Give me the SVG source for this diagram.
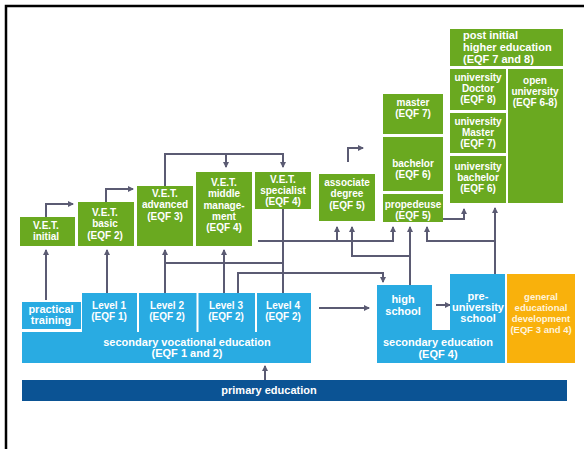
<svg xmlns="http://www.w3.org/2000/svg" width="584" height="449" viewBox="0 0 584 449">
<style>
.g{fill:#6aa920}
.b{fill:#29abe2}
.o{fill:#f9b10c}
.d{fill:#0b5394}
text{font-family:"Liberation Sans",Arial,sans-serif;font-weight:bold;fill:#ffffff;text-anchor:middle;font-size:10px}
.l{font-size:11px}
.s{font-size:9.5px;fill:#fff4dc}
.c{fill:none;stroke:#5b5b73;stroke-width:2}
</style>
<defs>
<marker id="ah" viewBox="0 0 6 6" refX="5" refY="3" markerWidth="6" markerHeight="6" markerUnits="userSpaceOnUse" orient="auto">
<path d="M0,0 L6,3 L0,6 z" fill="#5b5b73"/>
</marker>
</defs>
<rect width="584" height="449" fill="#ffffff"/>
<path d="M6,449 V6 H584" fill="none" stroke="#000000" stroke-width="2.5"/>

<g id="connectors">
<path class="c" d="M46,300 V250" marker-end="url(#ah)"/>
<path class="c" d="M107,293 V250" marker-end="url(#ah)"/>
<path class="c" d="M165,293 V250" marker-end="url(#ah)"/>
<path class="c" d="M224,293 V250" marker-end="url(#ah)"/>
<path class="c" d="M165,263 H283"/>
<path class="c" d="M283,293 V209"/>
<path class="c" d="M238,293 V273 H383 V282" marker-end="url(#ah)"/>
<path class="c" d="M258,241 H393 V227" marker-end="url(#ah)"/>
<path class="c" d="M337,241 V227" marker-end="url(#ah)"/>
<path class="c" d="M410,285 V227" marker-end="url(#ah)"/>
<path class="c" d="M410,256 H352 V227" marker-end="url(#ah)"/>
<path class="c" d="M495,274 V208" marker-end="url(#ah)"/>
<path class="c" d="M495,241 H427 V227" marker-end="url(#ah)"/>
<path class="c" d="M443,219 H464 V209" marker-end="url(#ah)"/>
<path class="c" d="M46,217 V204 H73" marker-end="url(#ah)"/>
<path class="c" d="M106,202 V189 H133" marker-end="url(#ah)"/>
<path class="c" d="M165,186 V154 H283 V167" marker-end="url(#ah)"/>
<path class="c" d="M226,154 V167" marker-end="url(#ah)"/>
<path class="c" d="M348,162 V148 H363" marker-end="url(#ah)"/>
<path class="c" d="M319,308 H369" marker-end="url(#ah)"/>
<path class="c" d="M436,305 H450" marker-end="url(#ah)"/>
<path class="c" d="M265,380 V366" marker-end="url(#ah)"/>
</g>

<g id="vet-initial"><rect class="g" x="20" y="217" width="55" height="29"/>
<text x="46" y="229">V.E.T.</text><text x="46" y="240">initial</text></g>
<g id="vet-basic"><rect class="g" x="78" y="202" width="56" height="44"/>
<text x="105" y="216">V.E.T.</text><text x="105" y="227">basic</text><text x="105" y="239">(EQF 2)</text></g>
<g id="vet-advanced"><rect class="g" x="137" y="186" width="56" height="60"/>
<text x="165" y="197">V.E.T.</text><text x="165" y="208">advanced</text><text x="165" y="220">(EQF 3)</text></g>
<g id="vet-middle"><rect class="g" x="196" y="172" width="56" height="74"/>
<text x="224" y="186">V.E.T.</text><text x="224" y="197">middle</text><text x="224" y="209">manage-</text><text x="224" y="220">ment</text><text x="224" y="231">(EQF 4)</text></g>
<g id="vet-specialist"><rect class="g" x="255" y="172" width="56" height="37"/>
<text x="283" y="183">V.E.T.</text><text x="283" y="194">specialist</text><text x="283" y="205">(EQF 4)</text></g>
<g id="associate"><rect class="g" x="319" y="174" width="56" height="47"/>
<text x="347" y="186">associate</text><text x="347" y="197">degree</text><text x="347" y="209">(EQF 5)</text></g>
<g id="master"><rect class="g" x="383" y="94" width="60" height="40"/>
<text x="413" y="106">master</text><text x="413" y="117">(EQF 7)</text></g>
<g id="bachelor"><rect class="g" x="383" y="137" width="60" height="54"/>
<text x="413" y="167">bachelor</text><text x="413" y="178">(EQF 6)</text></g>
<g id="propedeuse"><rect class="g" x="383" y="194" width="60" height="28"/>
<text x="413" y="208">propedeuse</text><text x="413" y="219">(EQF 5)</text></g>
<g id="post-initial"><rect class="g" x="450" y="29" width="113" height="37"/>
<text class="l" x="463" y="39" style="text-anchor:start">post initial</text><text class="l" x="463" y="51" style="text-anchor:start">higher education</text><text class="l" x="463" y="63" style="text-anchor:start">(EQF 7 and 8)</text></g>
<g id="uni-doctor"><rect class="g" x="450" y="69" width="56" height="41"/>
<text x="478" y="81">university</text><text x="478" y="92">Doctor</text><text x="478" y="103">(EQF 8)</text></g>
<g id="uni-master"><rect class="g" x="450" y="113" width="56" height="40"/>
<text x="478" y="125">university</text><text x="478" y="136">Master</text><text x="478" y="147">(EQF 7)</text></g>
<g id="uni-bachelor"><rect class="g" x="450" y="156" width="56" height="47"/>
<text x="478" y="170">university</text><text x="478" y="181">bachelor</text><text x="478" y="192">(EQF 6)</text></g>
<g id="open-university"><rect class="g" x="508" y="69" width="55" height="134"/>
<text x="535" y="84">open</text><text x="535" y="95">university</text><text x="535" y="106">(EQF 6-8)</text></g>

<g id="practical-training"><rect class="b" x="22" y="302" width="59" height="27"/>
<text class="l" x="51" y="313">practical</text><text class="l" x="51" y="324">training</text></g>
<g id="secondary-vocational"><rect class="b" x="22" y="332" width="289" height="31"/>
<rect class="b" x="82" y="293" width="229" height="40"/>
<path d="M138,293 V332 M197.5,293 V332 M256,293 V332" stroke="#ffffff" stroke-width="2"/>
<text class="l" x="187" y="346">secondary vocational education</text><text class="l" x="187" y="357">(EQF 1 and 2)</text></g>
<g id="level1"><text x="109" y="309">Level 1</text><text x="109" y="320">(EQF 1)</text></g>
<g id="level2"><text x="167" y="309">Level 2</text><text x="167" y="320">(EQF 2)</text></g>
<g id="level3"><text x="226" y="309">Level 3</text><text x="226" y="320">(EQF 2)</text></g>
<g id="level4"><text x="283" y="309">Level 4</text><text x="283" y="320">(EQF 2)</text></g>
<g id="secondary-education"><path class="b" d="M377,285 H432 V330 H450 V274 H505 V363 H377 Z"/>
<text class="l" x="438" y="346">secondary education</text><text class="l" x="438" y="358">(EQF 4)</text></g>
<g id="high-school"><text class="l" x="403" y="303">high</text><text class="l" x="403" y="315">school</text></g>
<g id="pre-university"><text class="l" x="478" y="300">pre-</text><text class="l" x="478" y="311">university</text><text class="l" x="478" y="322">school</text></g>
<g id="general-development"><rect class="o" x="507" y="274" width="68" height="89"/>
<text class="s" x="541" y="300">general</text><text class="s" x="541" y="311">educational</text><text class="s" x="541" y="322">development</text><text class="s" x="541" y="333">(EQF 3 and 4)</text></g>
<g id="primary"><rect class="d" x="22" y="380" width="545" height="21"/>
<text class="l" x="269" y="394">primary education</text></g>
</svg>
